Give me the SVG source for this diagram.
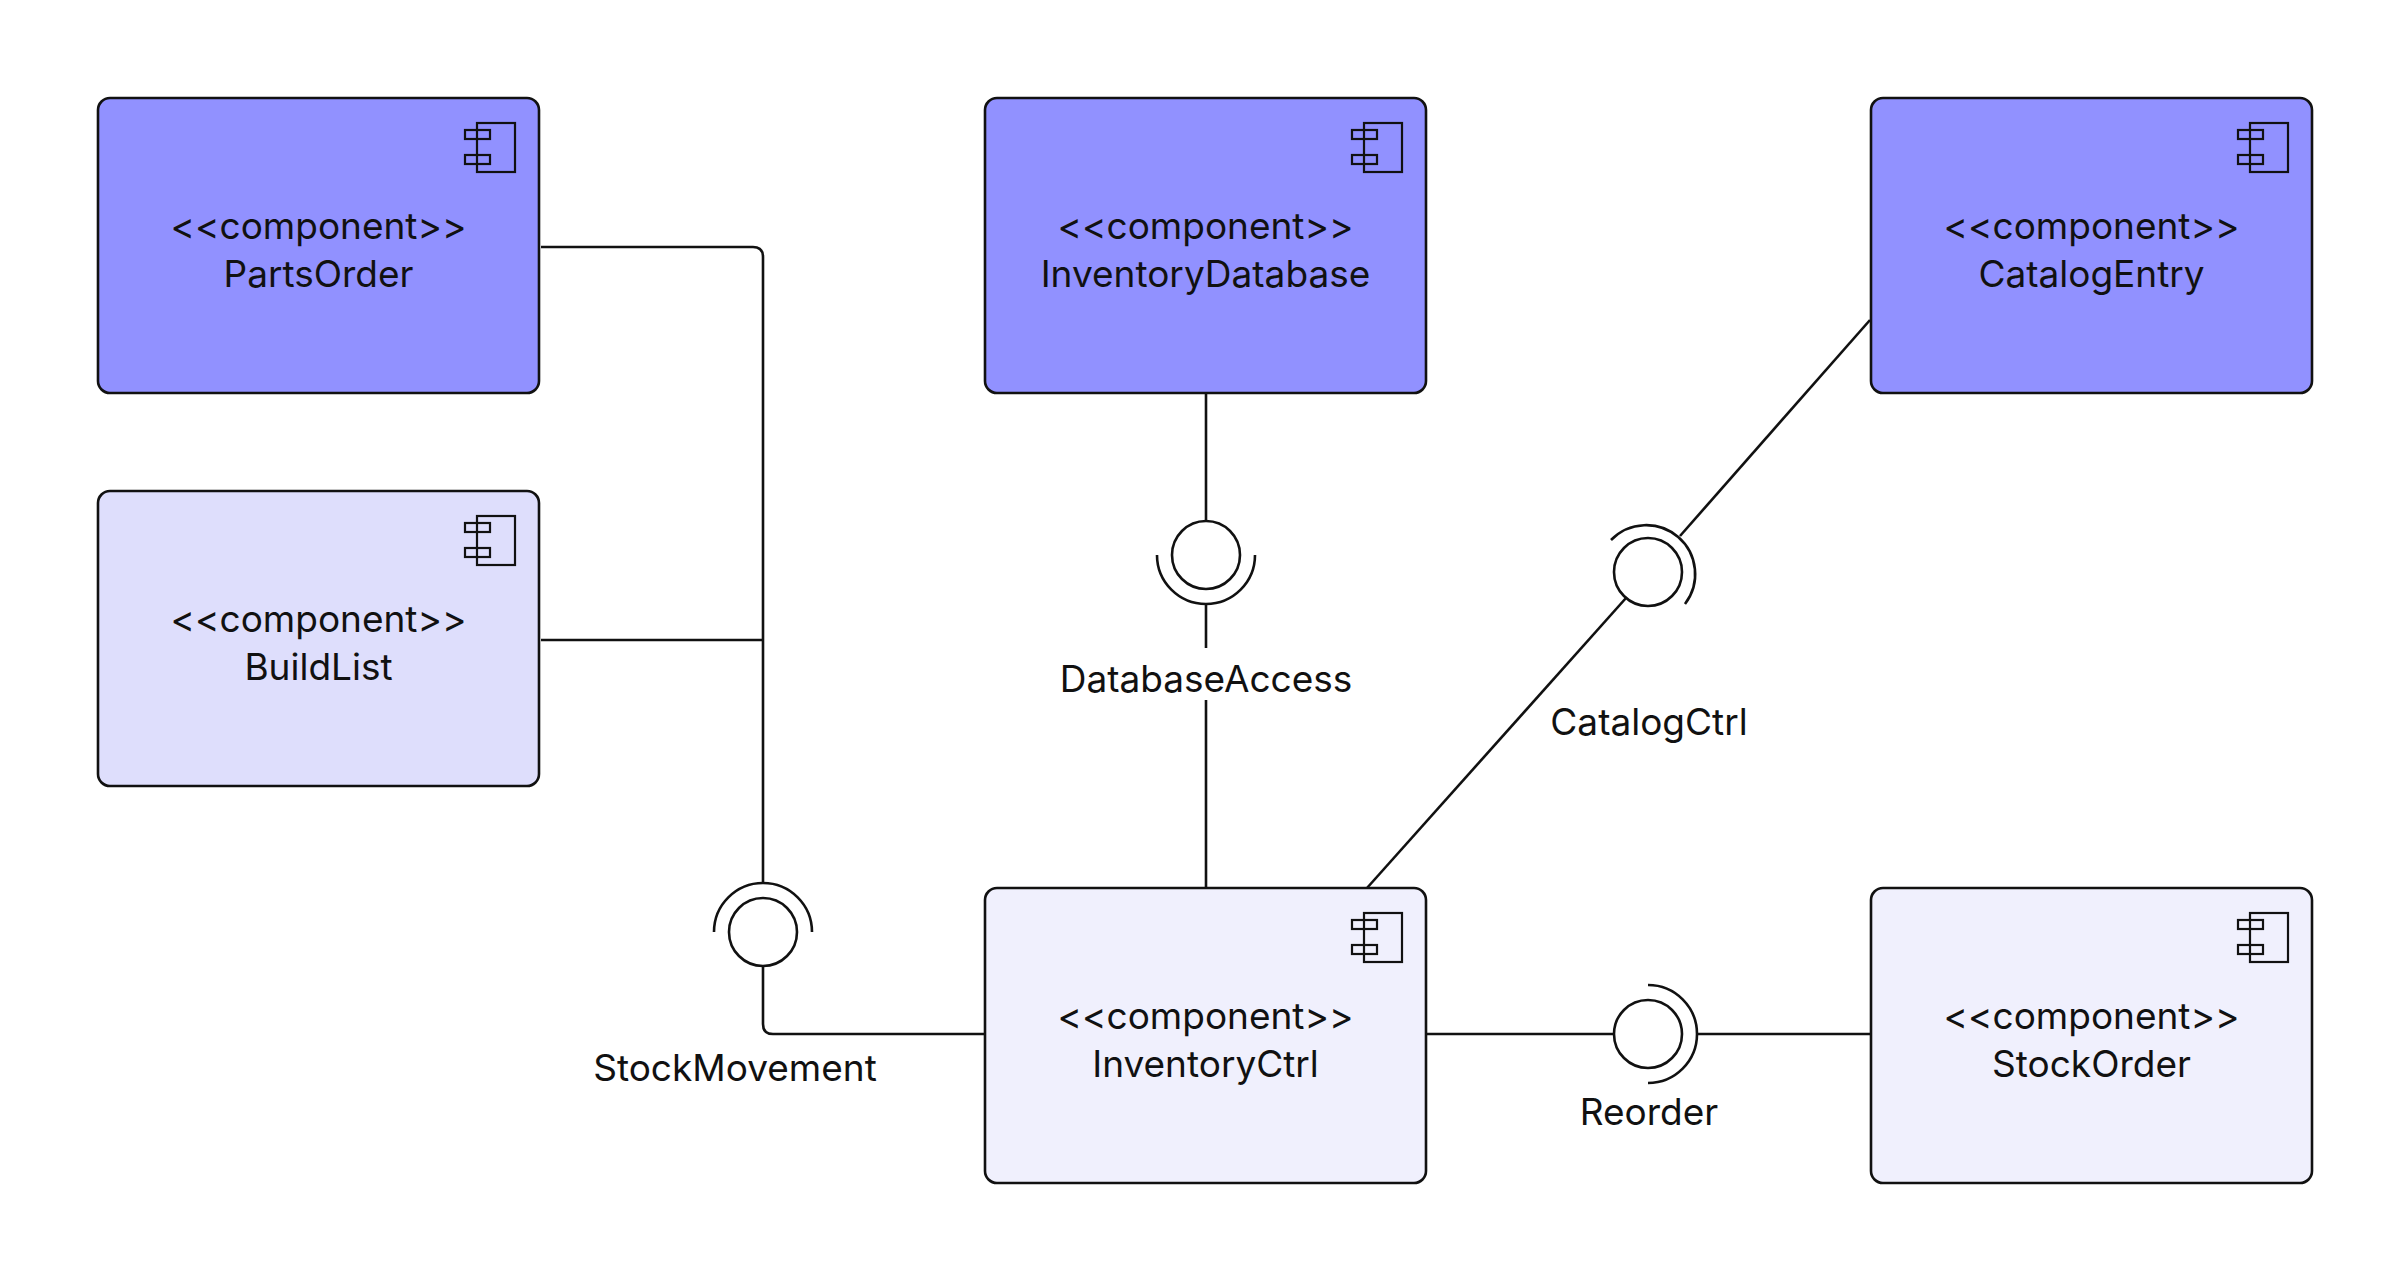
<svg xmlns="http://www.w3.org/2000/svg" width="2400" height="1273" viewBox="0 0 2400 1273">
<style>
.box{stroke:#111;stroke-width:2.6}
.c1{fill:#9191ff}.c2{fill:#dedefc}.c3{fill:#f0f0fd}
.ic{fill:none;stroke:#111;stroke-width:2.2}
.t{font-family:Inter,"Liberation Sans",sans-serif;font-size:37px;fill:#111;text-anchor:middle}
.ln{fill:none;stroke:#111;stroke-width:2.6}
.lb{fill:#fff}
</style>
<defs>
<g id="icon">
<rect class="ic" x="-62" y="25" width="38" height="49"/>
<rect class="ic" x="-74" y="32" width="25" height="9"/>
<rect class="ic" x="-74" y="57" width="25" height="9"/>
</g>
</defs>
<g id="connectors">
<path class="ln" d="M541,247 H753 Q763,247 763,257 V883"/>
<path class="ln" d="M541,640 H763"/>
<circle class="ln" cx="763" cy="932" r="34"/>
<path class="ln" d="M714,932 A49,49 0 0 1 812,932"/>
<path class="ln" d="M763,966 V1024 Q763,1034 773,1034 H985"/>
<path class="ln" d="M1206,393 V521"/>
<circle class="ln" cx="1206" cy="555" r="34"/>
<path class="ln" d="M1157,555 A49,49 0 0 0 1255,555"/>
<path class="ln" d="M1206,605 V888"/>
<path class="ln" d="M1870,320 L1680,536"/>
<circle class="ln" cx="1648" cy="572" r="34"/>
<path class="ln" d="M1611,540 A49,49 0 0 1 1685,604"/>
<path class="ln" d="M1626,598 L1367,888"/>
<path class="ln" d="M1426,1034 H1614"/>
<circle class="ln" cx="1648" cy="1034" r="34"/>
<path class="ln" d="M1648,985 A49,49 0 0 1 1648,1083"/>
<path class="ln" d="M1697,1034 H1871"/>
<rect class="lb" x="1040" y="648" width="332" height="52"/>
<text class="t" x="1206" y="692">DatabaseAccess</text>
<text class="t" x="1649" y="735">CatalogCtrl</text>
<text class="t" x="735" y="1081">StockMovement</text>
<text class="t" x="1649" y="1125">Reorder</text>
</g>
<g id="PartsOrder">
<rect class="box c1" x="98" y="98" width="441" height="295" rx="12"/>
<use href="#icon" x="539" y="98"/>
<text class="t" x="318.5" y="239">&lt;&lt;component&gt;&gt;</text>
<text class="t" x="318.5" y="287">PartsOrder</text>
</g>
<g id="BuildList">
<rect class="box c2" x="98" y="491" width="441" height="295" rx="12"/>
<use href="#icon" x="539" y="491"/>
<text class="t" x="318.5" y="632">&lt;&lt;component&gt;&gt;</text>
<text class="t" x="318.5" y="680">BuildList</text>
</g>
<g id="InventoryDatabase">
<rect class="box c1" x="985" y="98" width="441" height="295" rx="12"/>
<use href="#icon" x="1426" y="98"/>
<text class="t" x="1205.5" y="239">&lt;&lt;component&gt;&gt;</text>
<text class="t" x="1205.5" y="287">InventoryDatabase</text>
</g>
<g id="CatalogEntry">
<rect class="box c1" x="1871" y="98" width="441" height="295" rx="12"/>
<use href="#icon" x="2312" y="98"/>
<text class="t" x="2091.5" y="239">&lt;&lt;component&gt;&gt;</text>
<text class="t" x="2091.5" y="287">CatalogEntry</text>
</g>
<g id="InventoryCtrl">
<rect class="box c3" x="985" y="888" width="441" height="295" rx="12"/>
<use href="#icon" x="1426" y="888"/>
<text class="t" x="1205.5" y="1029">&lt;&lt;component&gt;&gt;</text>
<text class="t" x="1205.5" y="1077">InventoryCtrl</text>
</g>
<g id="StockOrder">
<rect class="box c3" x="1871" y="888" width="441" height="295" rx="12"/>
<use href="#icon" x="2312" y="888"/>
<text class="t" x="2091.5" y="1029">&lt;&lt;component&gt;&gt;</text>
<text class="t" x="2091.5" y="1077">StockOrder</text>
</g>
</svg>
